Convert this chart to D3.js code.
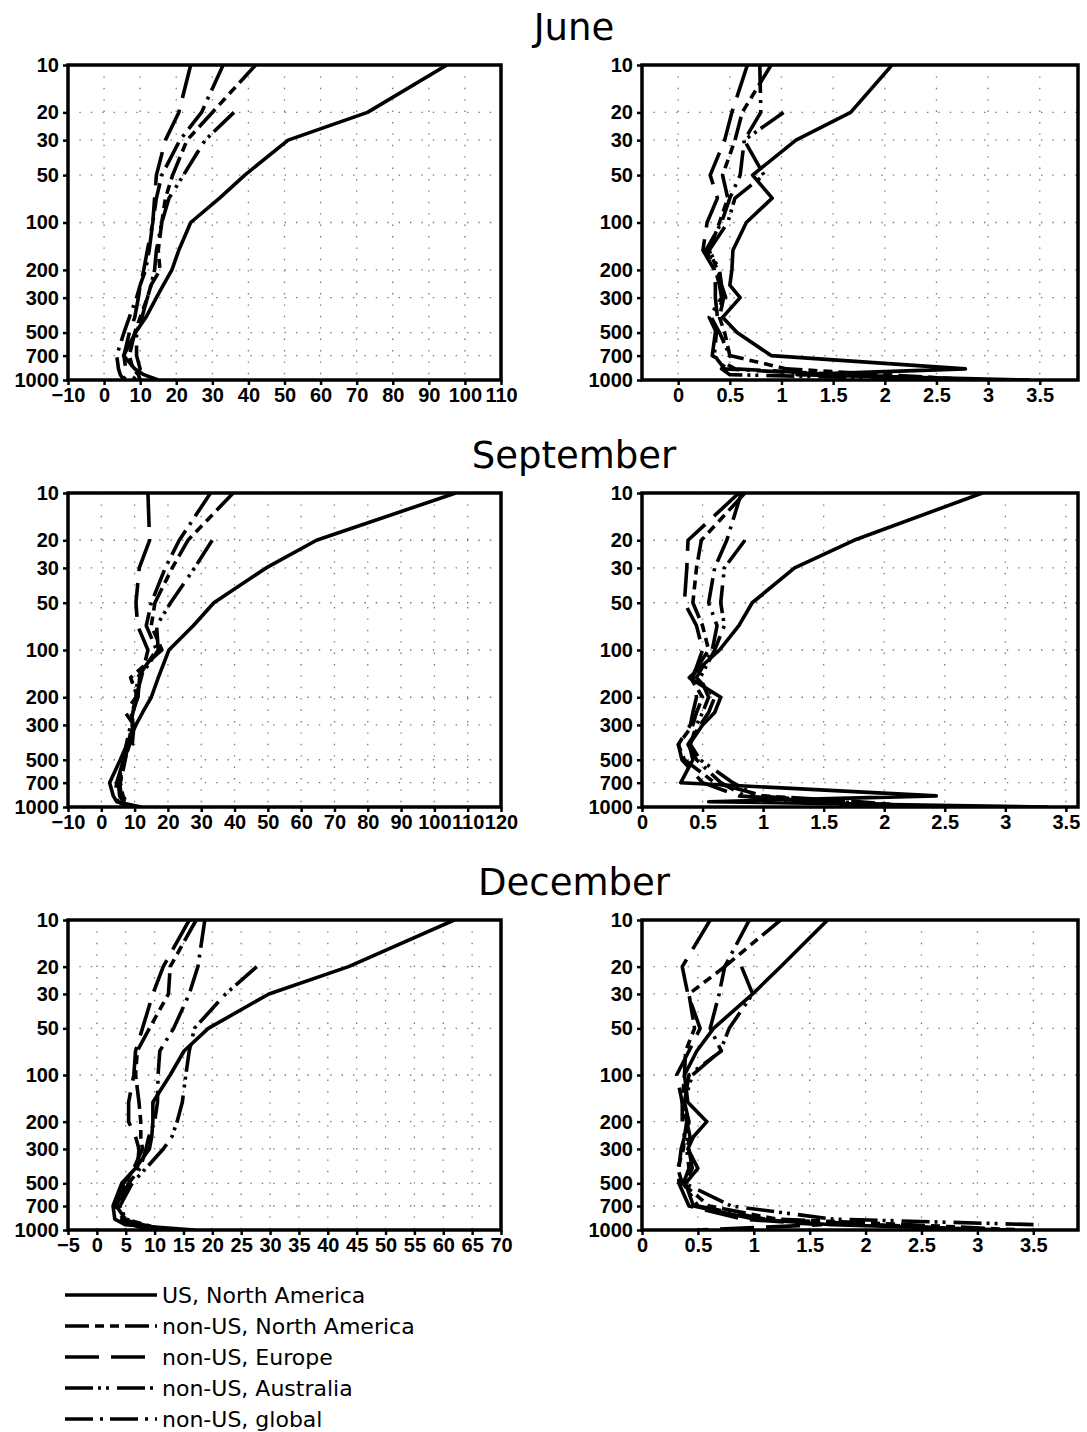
<!DOCTYPE html>
<html>
<head>
<meta charset="utf-8">
<script src="https://cdn.jsdelivr.net/npm/d3@7/dist/d3.min.js"></script>
<style>
  html, body { margin: 0; padding: 0; background: #fff; }
  svg { display: block; }
</style>
</head>
<body>
<div id="chart"></div>
<script>
// Pressure levels (hPa) shared by every profile
const levels = [10, 20, 30, 50, 70, 100, 150, 200, 250, 300, 400, 500, 700, 850, 925, 1000];
const pressureTicks = [10, 20, 30, 50, 100, 200, 300, 500, 700, 1000];

const months = ["June", "September", "December"];
const seriesNames = ["US, North America", "non-US, North America", "non-US, Europe", "non-US, Australia", "non-US, global"];

// x tick labels for each panel
const xTicksJuneLeft = [-10, 0, 10, 20, 30, 40, 50, 60, 70, 80, 90, 100, 110];
const xTicksJuneRight = [0, 0.5, 1, 1.5, 2, 2.5, 3, 3.5];
const xTicksSeptLeft = [-10, 0, 10, 20, 30, 40, 50, 60, 70, 80, 90, 100, 110, 120];
const xTicksSeptRight = [0, 0.5, 1, 1.5, 2, 2.5, 3, 3.5];
const xTicksDecLeft = [-5, 0, 5, 10, 15, 20, 25, 30, 35, 40, 45, 50, 55, 60, 65, 70];
const xTicksDecRight = [0, 0.5, 1, 1.5, 2, 2.5, 3, 3.5];

// x extents of each panel
const xDomainJuneLeft = [-10, 110];
const xDomainJuneRight = [-0.35, 3.87];
const xDomainSeptLeft = [-10, 120];
const xDomainSeptRight = [0, 3.6];
const xDomainDecLeft = [-5, 70];
const xDomainDecRight = [0, 3.9];

// June, left column
const juneLeftUS   = [95, 73, 51, 39, 32, 24, 20.7, 18.8, 16.4, 14.5, 11.6, 8.7, 5.4, 8.5, 11, 15];
const juneLeftNA   = [42, 30, 23, 19, 17, 16, 15, 15.5, 13, 12, 10, 8.5, 7, 8, 9.5, 10];
const juneLeftEU   = [24, 20.7, 17, 14.5, 14, 13.5, 12, 11, 10, 9.5, 8.5, 7, 5.5, 6, 6.5, 5];
const juneLeftAU   = [null, 36, 28, 22, 18, 16, 14.5, 14, 13, 12, 10.5, 9, 9, 10, 9, 8];
const juneLeftGL   = [33, 27, 21, 16, 14.5, 13.5, 12.5, 11.5, 10, 9, 7, 5.5, 3.5, 4, 4.5, 5.5];

// June, right column
const juneRightUS  = [2.07, 1.67, 1.14, 0.72, 0.91, 0.66, 0.53, 0.52, 0.5, 0.6, 0.43, 0.57, 0.9, 2.78, 1.15, 3.4];
const juneRightNA  = [0.9, 0.62, 0.55, 0.43, 0.48, 0.4, 0.3, 0.38, 0.42, 0.44, 0.4, 0.45, 0.5, 1.05, 2.0, 2.9];
const juneRightEU  = [0.67, 0.52, 0.45, 0.31, 0.38, 0.28, 0.24, 0.35, 0.36, 0.36, 0.38, 0.36, 0.33, 0.55, 1.6, 2.75];
const juneRightAU  = [null, 1.02, 0.64, 0.83, 0.55, 0.48, 0.3, 0.4, 0.42, 0.46, 0.32, 0.4, 0.5, 0.42, 0.5, 2.8];
const juneRightGL  = [0.79, 0.8, 0.64, 0.6, 0.5, 0.42, 0.27, 0.36, 0.4, 0.42, 0.3, 0.37, 0.35, 0.45, 1.5, 2.95];

// September, left column
const septLeftUS   = [106.4, 64.6, 49.5, 33.8, 27.6, 20.3, 17.1, 15, 12.4, 10.4, 7.7, 5.7, 2.5, 3.6, 4.6, 11.9];
const septLeftNA   = [39.6, 26, 21.3, 16.1, 15, 18.2, 8.8, 10.9, 9.5, 9.3, 8, 7.2, 5.7, 6.5, 7.5, 8.8];
const septLeftEU   = [14, 14.5, 11.4, 10.4, 10.9, 14, 12, 10.4, 7.2, 9.8, 9.3, 6.7, 4.6, 4.1, 5.1, 7.7];
const septLeftAU   = [null, 33.3, 28, 20.8, 16.6, 17.1, 11.5, 11, 9, 9.5, 8.5, 7, 5.5, 6, 7, 9.5];
const septLeftGL   = [32.8, 23.4, 19.2, 15, 13.5, 16.6, 10.9, 10.4, 9.5, 8.8, 7.5, 6.7, 5.1, 5.5, 6.5, 8.3];

// September, right column
const septRightUS  = [2.81, 1.75, 1.26, 0.91, 0.8, 0.64, 0.39, 0.65, 0.6, 0.5, 0.39, 0.42, 0.32, 2.43, 0.55, 3.35];
const septRightNA  = [0.85, 0.49, 0.45, 0.42, 0.5, 0.55, 0.4, 0.5, 0.45, 0.42, 0.3, 0.35, 0.6, 1.0, 1.8, 2.3];
const septRightEU  = [0.8, 0.38, 0.37, 0.35, 0.45, 0.5, 0.42, 0.45, 0.42, 0.4, 0.3, 0.33, 0.5, 0.8, 1.4, 2.2];
const septRightAU  = [null, 0.85, 0.68, 0.65, 0.68, 0.6, 0.48, 0.55, 0.5, 0.45, 0.4, 0.48, 0.75, 0.95, 1.6, 2.4];
const septRightGL  = [0.82, 0.7, 0.6, 0.55, 0.62, 0.58, 0.45, 0.6, 0.55, 0.48, 0.38, 0.45, 0.65, 0.85, 1.3, 2.0];

// December, left column
const decLeftUS    = [61.9, 43.6, 29.8, 19.3, 15.1, 12.7, 9.7, 9.7, 9.5, 9.1, 6.7, 4.3, 2.8, 3.1, 4.9, 16.9];
const decLeftNA    = [17.2, 12.7, 12.4, 9.1, 7, 6.7, 7.3, 7.6, 7.6, 7.9, 6.4, 4.9, 3.4, 4.9, 8.5, 10.9];
const decLeftEU    = [16, 11.5, 9.7, 7.9, 6.7, 6.4, 5.5, 5.5, 6.7, 7.3, 7, 4.6, 3.1, 3.7, 6.1, 9.1];
const decLeftAU    = [null, 27.7, 22.3, 16.9, 16, 15.4, 14.8, 13.9, 13, 11.5, 8.5, 6.1, 4, 5, 8, 12];
const decLeftGL    = [18.7, 17.5, 16, 13.3, 10.9, 10.6, 10.5, 10, 9, 8.5, 7.5, 5.5, 3.5, 4.5, 7.5, 10.5];

// December, right column
const decRightUS   = [1.66, 1.24, 0.99, 0.64, 0.49, 0.38, 0.41, 0.58, 0.46, 0.41, 0.5, 0.39, 0.46, 1.0, 1.7, 3.3];
const decRightNA   = [1.24, 0.74, 0.42, 0.47, 0.39, 0.38, 0.36, 0.4, 0.38, 0.37, 0.32, 0.36, 0.6, 1.2, 2.4, 3.4];
const decRightEU   = [0.61, 0.36, 0.41, 0.52, 0.42, 0.31, 0.36, 0.36, 0.38, 0.35, 0.33, 0.33, 0.42, 0.9, 1.6, 0.5];
const decRightAU   = [null, 0.89, 0.99, 0.78, 0.7, 0.45, 0.38, 0.42, 0.4, 0.42, 0.45, 0.38, 0.8, 1.7, 3.55, null];
const decRightGL   = [0.96, 0.74, 0.69, 0.61, 0.71, 0.42, 0.38, 0.4, 0.43, 0.4, 0.42, 0.37, 0.5, 1.1, 2.1, 3.1];

// Line patterns, in legend order
const dashPatterns = [null, "24,6,9,6,9,6", "34,12", "28,5,3,5,3,8", "28,7,3,7"];

const W = 1087, H = 1432;
const colX = [{x0: 68, x1: 501}, {x0: 642, x1: 1078}];
const rowY = [{y0: 65, y1: 380, title: 40}, {y0: 493, y1: 807, title: 468}, {y0: 920, y1: 1230, title: 895}];

const panels = [
  {row: 0, col: 0, domain: xDomainJuneLeft,  ticks: xTicksJuneLeft,  series: [juneLeftUS, juneLeftNA, juneLeftEU, juneLeftAU, juneLeftGL]},
  {row: 0, col: 1, domain: xDomainJuneRight, ticks: xTicksJuneRight, series: [juneRightUS, juneRightNA, juneRightEU, juneRightAU, juneRightGL]},
  {row: 1, col: 0, domain: xDomainSeptLeft,  ticks: xTicksSeptLeft,  series: [septLeftUS, septLeftNA, septLeftEU, septLeftAU, septLeftGL]},
  {row: 1, col: 1, domain: xDomainSeptRight, ticks: xTicksSeptRight, series: [septRightUS, septRightNA, septRightEU, septRightAU, septRightGL]},
  {row: 2, col: 0, domain: xDomainDecLeft,   ticks: xTicksDecLeft,   series: [decLeftUS, decLeftNA, decLeftEU, decLeftAU, decLeftGL]},
  {row: 2, col: 1, domain: xDomainDecRight,  ticks: xTicksDecRight,  series: [decRightUS, decRightNA, decRightEU, decRightAU, decRightGL]}
];

const svg = d3.select("#chart").append("svg")
  .attr("width", W).attr("height", H)
  .attr("viewBox", `0 0 ${W} ${H}`);

const defs = svg.append("defs");
const labelFont = "'Liberation Sans', Arial, sans-serif";
const textFont = "'DejaVu Sans', 'Liberation Sans', sans-serif";

// Month titles
months.forEach((m, i) => {
  svg.append("text")
    .attr("x", 574).attr("y", rowY[i].title)
    .attr("text-anchor", "middle")
    .attr("font-family", textFont)
    .attr("font-size", 37)
    .attr("fill", "#000")
    .text(m);
});

const fmt = v => {
  const s = String(v);
  return v < 0 ? "\u2212" + s.slice(1) : s;
};

panels.forEach((p, pi) => {
  const {x0, x1} = colX[p.col];
  const {y0, y1} = rowY[p.row];
  const x = d3.scaleLinear().domain(p.domain).range([x0, x1]);
  const y = d3.scaleLog().domain([10, 1000]).range([y0, y1]);

  const g = svg.append("g");

  // dotted grid
  const grid = g.append("g")
    .attr("stroke", "#777")
    .attr("stroke-width", 1.3)
    .attr("stroke-dasharray", "1.4,10");
  p.ticks.filter(t => x(t) > x0 + 2 && x(t) < x1 - 2).forEach(t => {
    grid.append("line").attr("x1", x(t)).attr("x2", x(t)).attr("y1", y0).attr("y2", y1);
  });
  pressureTicks.filter(t => t > 10 && t < 1000).forEach(t => {
    grid.append("line").attr("x1", x0).attr("x2", x1).attr("y1", y(t)).attr("y2", y(t));
  });

  // axes
  const yAxis = d3.axisLeft(y).tickValues(pressureTicks).tickFormat(d3.format("d")).tickSize(5).tickPadding(4);
  const xAxis = d3.axisBottom(x).tickValues(p.ticks).tickFormat(fmt).tickSize(5).tickPadding(3);

  const ya = g.append("g").attr("transform", `translate(${x0},0)`).call(yAxis);
  const xa = g.append("g").attr("transform", `translate(0,${y1})`).call(xAxis);
  [ya, xa].forEach(a => {
    a.select(".domain").remove();
    a.selectAll(".tick line").attr("stroke", "#000").attr("stroke-width", 2.5);
    a.selectAll(".tick text")
      .attr("font-family", labelFont)
      .attr("font-weight", "bold")
      .attr("font-size", 20)
      .attr("fill", "#000");
  });

  // profiles
  const clipId = "clip" + pi;
  defs.append("clipPath").attr("id", clipId)
    .append("rect").attr("x", x0).attr("y", y0).attr("width", x1 - x0).attr("height", y1 - y0);

  const line = d3.line()
    .defined(d => d.v !== null)
    .x(d => x(d.v))
    .y(d => y(d.p));

  const lines = g.append("g").attr("clip-path", `url(#${clipId})`);
  p.series.forEach((vals, si) => {
    const pts = levels.map((lev, k) => ({p: lev, v: vals[k]}));
    lines.append("path")
      .attr("d", line(pts))
      .attr("fill", "none")
      .attr("stroke", "#000")
      .attr("stroke-width", 3.6)
      .attr("stroke-linejoin", "round")
      .attr("stroke-dasharray", dashPatterns[si]);
  });

  // frame
  g.append("rect")
    .attr("x", x0).attr("y", y0)
    .attr("width", x1 - x0).attr("height", y1 - y0)
    .attr("fill", "none")
    .attr("stroke", "#000")
    .attr("stroke-width", 3.5);
});

// Legend
const legend = svg.append("g");
seriesNames.forEach((name, i) => {
  const ly = 1295 + i * 31;
  legend.append("line")
    .attr("x1", 65).attr("x2", 157)
    .attr("y1", ly).attr("y2", ly)
    .attr("stroke", "#000")
    .attr("stroke-width", 3.6)
    .attr("stroke-dasharray", dashPatterns[i]);
  legend.append("text")
    .attr("x", 162).attr("y", ly)
    .attr("dy", "0.36em")
    .attr("font-family", textFont)
    .attr("font-size", 22)
    .attr("fill", "#000")
    .text(name);
});
</script>
</body>
</html>
